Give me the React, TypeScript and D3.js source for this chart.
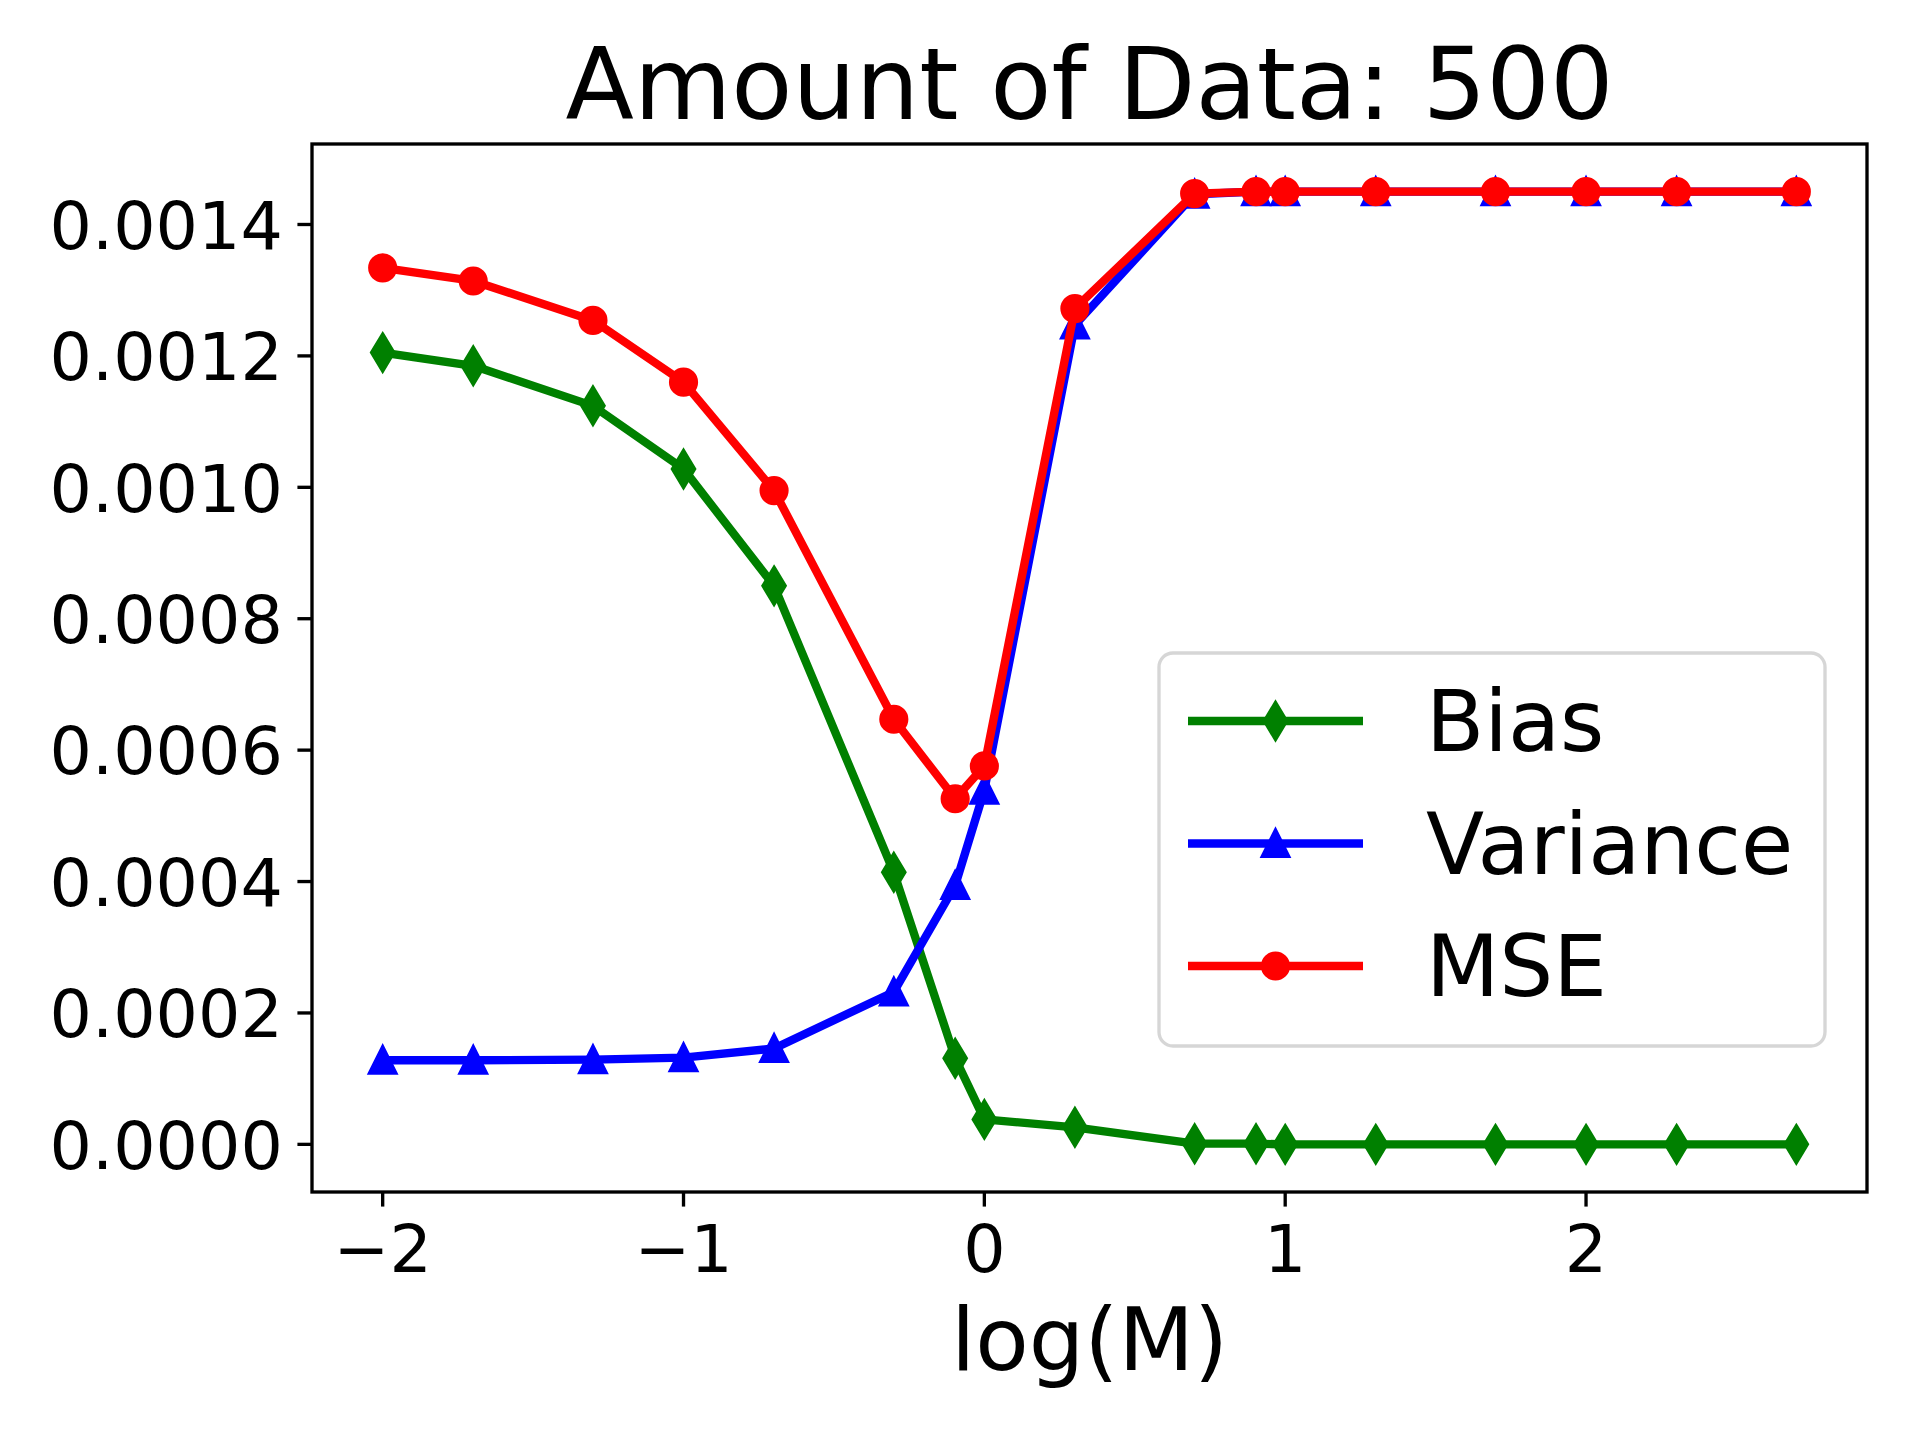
import React, { useEffect, useRef } from 'react';
import * as d3 from 'd3';

// log10 of the amount M
const xValues = [-2, -1.699, -1.301, -1, -0.699, -0.301, -0.097, 0, 0.301, 0.699, 0.903, 1, 1.301, 1.699, 2, 2.301, 2.699];

const biasValues = [
  0.001205, 0.001185, 0.001124, 0.001028, 0.00085, 0.000414, 0.000131, 0.000038, 0.000026,
  0.000001, 0.000001, 0, 0, 0, 0, 0, 0,
];
const varianceValues = [
  0.000128, 0.000128, 0.000129, 0.000132, 0.000146, 0.000232, 0.000394, 0.000539, 0.001247,
  0.001446, 0.00145, 0.00145, 0.00145, 0.00145, 0.00145, 0.00145, 0.00145,
];
const mseValues = [
  0.001334, 0.001314, 0.001254, 0.00116, 0.000995, 0.000647, 0.000526, 0.000576, 0.001272,
  0.001447, 0.00145, 0.00145, 0.00145, 0.00145, 0.00145, 0.00145, 0.00145,
];

const xTicks = [-2, -1, 0, 1, 2];
const yTicks = [0, 0.0002, 0.0004, 0.0006, 0.0008, 0.001, 0.0012, 0.0014];

const seriesNames = ['Bias', 'Variance', 'MSE'];
const seriesColors = ['#008000', '#0000ff', '#ff0000'];
const seriesMarkers = ['thinDiamond', 'triangle', 'circle'];

const W = 1921;
const H = 1437;
const FONT = '"DejaVu Sans", Verdana, sans-serif';
const PT = 300 / 72;

const markerPath = (kind: string) => {
  const s = 6 * PT; // markersize 6pt
  if (kind === 'circle') return null;
  if (kind === 'triangle') {
    return `M0,${-s / 2}L${-s / 2},${s / 2}L${s / 2},${s / 2}Z`;
  }
  const h = (Math.SQRT2 * s) / 2;
  const w = h * 0.6;
  return `M0,${-h}L${w},0L0,${h}L${-w},0Z`;
};

const App: React.FC = () => {
  const svgRef = useRef<SVGSVGElement>(null);

  useEffect(() => {
    const svg = d3.select(svgRef.current);
    svg.selectAll('*').remove();

    const left = 312;
    const right = 1867;
    const top = 144;
    const bottom = 1192;

    const xExt = d3.extent(xValues) as [number, number];
    const xPad = (xExt[1] - xExt[0]) * 0.05;
    const xScale = d3.scaleLinear().domain([xExt[0] - xPad, xExt[1] + xPad]).range([left, right]);

    const allY = [...biasValues, ...varianceValues, ...mseValues];
    const yMin = d3.min(allY) || 0;
    const yMax = d3.max(allY) || 0;
    const yPad = (yMax - yMin) * 0.05;
    const yScale = d3.scaleLinear().domain([yMin - yPad, yMax + yPad]).range([bottom, top]);

    svg.append('rect').attr('width', W).attr('height', H).attr('fill', 'white');

    const series = [biasValues, varianceValues, mseValues];
    const line = d3
      .line<number>()
      .x((_d, i) => xScale(xValues[i]))
      .y(d => yScale(d));

    series.forEach((vals, si) => {
      const color = seriesColors[si];
      const g = svg.append('g');
      g.append('path')
        .attr('d', line(vals) || '')
        .attr('fill', 'none')
        .attr('stroke', color)
        .attr('stroke-width', 2 * PT)
        .attr('stroke-linejoin', 'round');

      const p = markerPath(seriesMarkers[si]);
      vals.forEach((v, i) => {
        const cx = xScale(xValues[i]);
        const cy = yScale(v);
        if (p === null) {
          g.append('circle')
            .attr('cx', cx)
            .attr('cy', cy)
            .attr('r', 3 * PT)
            .attr('fill', color)
            .attr('stroke', color)
            .attr('stroke-width', PT);
        } else {
          g.append('path')
            .attr('d', p)
            .attr('transform', `translate(${cx},${cy})`)
            .attr('fill', color)
            .attr('stroke', color)
            .attr('stroke-width', PT)
            .attr('stroke-linejoin', 'miter');
        }
      });
    });

    // frame
    svg.append('rect')
      .attr('x', left)
      .attr('y', top)
      .attr('width', right - left)
      .attr('height', bottom - top)
      .attr('fill', 'none')
      .attr('stroke', 'black')
      .attr('stroke-width', 0.8 * PT)
      .attr('stroke-linejoin', 'miter');

    const tickLen = 3.5 * PT;
    const tickPad = 3.5 * PT;
    const tickFont = 16 * PT;

    // x ticks
    xTicks.forEach(t => {
      const x = xScale(t);
      svg.append('line')
        .attr('x1', x).attr('x2', x)
        .attr('y1', bottom).attr('y2', bottom + tickLen)
        .attr('stroke', 'black')
        .attr('stroke-width', 0.8 * PT);
      svg.append('text')
        .attr('x', x)
        .attr('y', bottom + tickLen + tickPad + 0.765 * tickFont)
        .attr('text-anchor', 'middle')
        .attr('font-family', FONT)
        .attr('font-size', tickFont)
        .text(t < 0 ? `\u2212${Math.abs(t)}` : `${t}`);
    });

    // y ticks
    yTicks.forEach(t => {
      const y = yScale(t);
      svg.append('line')
        .attr('x1', left - tickLen).attr('x2', left)
        .attr('y1', y).attr('y2', y)
        .attr('stroke', 'black')
        .attr('stroke-width', 0.8 * PT);
      svg.append('text')
        .attr('x', left - tickLen - tickPad)
        .attr('y', y + 0.364 * tickFont)
        .attr('text-anchor', 'end')
        .attr('font-family', FONT)
        .attr('font-size', tickFont)
        .text(t.toFixed(4));
    });

    // title and axis label
    svg.append('text')
      .attr('x', (left + right) / 2)
      .attr('y', 119)
      .attr('text-anchor', 'middle')
      .attr('font-family', FONT)
      .attr('font-size', 24 * PT)
      .text('Amount of Data: 500');

    svg.append('text')
      .attr('x', (left + right) / 2)
      .attr('y', 1370)
      .attr('text-anchor', 'middle')
      .attr('font-family', FONT)
      .attr('font-size', 21 * PT)
      .text('log(M)');

    // legend
    const lg = svg.append('g');
    lg.append('rect')
      .attr('x', 1159)
      .attr('y', 653)
      .attr('width', 1825 - 1159)
      .attr('height', 1046 - 653)
      .attr('rx', 14)
      .attr('fill', 'white')
      .attr('fill-opacity', 0.8)
      .attr('stroke', '#d6d6d6')
      .attr('stroke-width', 0.8 * PT);

    seriesNames.forEach((name, si) => {
      const y = 721 + si * 122.5;
      const color = seriesColors[si];
      lg.append('line')
        .attr('x1', 1188).attr('x2', 1363)
        .attr('y1', y).attr('y2', y)
        .attr('stroke', color)
        .attr('stroke-width', 2 * PT);
      const p = markerPath(seriesMarkers[si]);
      if (p === null) {
        lg.append('circle')
          .attr('cx', 1275.5).attr('cy', y)
          .attr('r', 3 * PT)
          .attr('fill', color)
          .attr('stroke', color)
          .attr('stroke-width', PT);
      } else {
        lg.append('path')
          .attr('d', p)
          .attr('transform', `translate(1275.5,${y})`)
          .attr('fill', color)
          .attr('stroke', color)
          .attr('stroke-width', PT);
      }
      lg.append('text')
        .attr('x', 1426)
        .attr('y', y + 30)
        .attr('font-family', FONT)
        .attr('font-size', 20.4 * PT)
        .text(name);
    });
  }, []);

  return (
    <div style={{ position: 'absolute', left: 0, top: 0 }}>
      <svg ref={svgRef} width={W} height={H} style={{ display: 'block' }}></svg>
    </div>
  );
};

export default App;
